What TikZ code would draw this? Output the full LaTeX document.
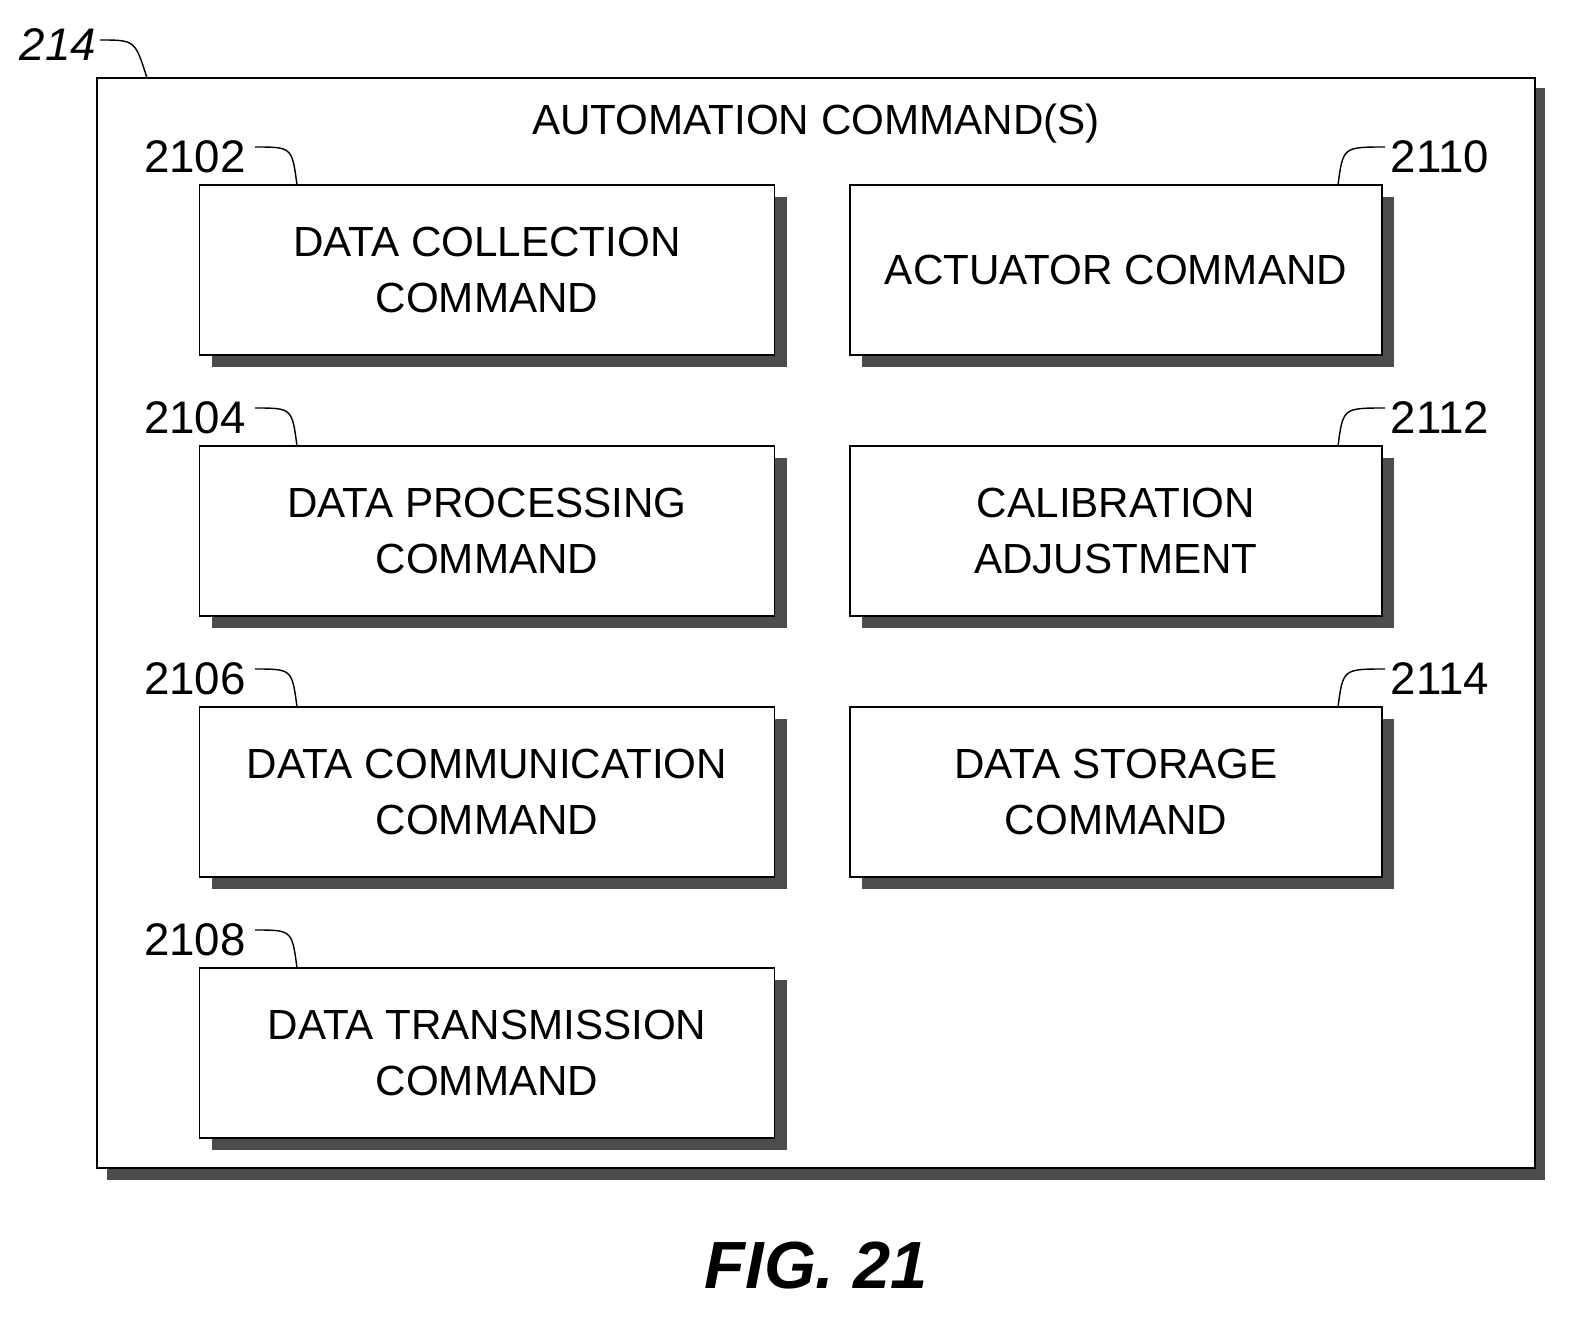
\documentclass[tikz,border=0pt]{standalone}
\usepackage{fontspec}
\setmainfont{Liberation Sans}
\usetikzlibrary{calc}

\tikzset{
  cmd/.style={draw, thick, fill=white, minimum width=11.5cm, minimum height=3.4cm,
    align=center, font=\fontsize{24}{32}\selectfont, inner sep=0pt},
  shadow/.style={fill=black!70},
  ref/.style={font=\fontsize{26}{32}\selectfont}
}

\begin{document}
\begin{tikzpicture}[x=0.02cm, y=-0.02cm]
    \useasboundingbox (0,0) rectangle (1578,1319);
    % outer box
    \fill[shadow] (107,88) rectangle (1545,1180);
    \draw[thick, fill=white] (97,78) rectangle (1535,1168);
    \node[font=\fontsize{24}{32}\selectfont] (title) at (816,124) {AUTOMATION COMMAND(S)};
    \node[ref, font=\itshape\fontsize{26}{32}\selectfont] (l214) at (58,45) {214};
    \draw[thick] (100,40) .. controls (135,40) .. (147,78);

    % left column
    \foreach \i/\yy/\lab/\txt in {2102/270/2102/{DATA COLLECTION\\COMMAND},
                                   2104/531/2104/{DATA PROCESSING\\COMMAND},
                                   2106/792/2106/{DATA COMMUNICATION\\COMMAND},
                                   2108/1053/2108/{DATA TRANSMISSION\\COMMAND}} {
        \fill[shadow] (212,{\yy-73}) rectangle (787,{\yy+97});
        \node[cmd] (b\i) at (487,\yy) {\txt};
        \node[ref] (r\i) at (195,{\yy-113}) {\lab};
        \draw[thick] (255,{\yy-123}) .. controls (292,{\yy-123}) .. (297,{\yy-85});
    }

    % right column
    \foreach \i/\yy/\lab/\txt in {2110/270/2110/{ACTUATOR COMMAND},
                                   2112/531/2112/{CALIBRATION\\ADJUSTMENT},
                                   2114/792/2114/{DATA STORAGE\\COMMAND}} {
        \fill[shadow] (862,{\yy-73}) rectangle (1394,{\yy+97});
        \node[cmd, minimum width=10.64cm] (b\i) at (1116,\yy) {\txt};
        \node[ref] (r\i) at (1440,{\yy-113}) {\lab};
        \draw[thick] (1385,{\yy-123}) .. controls (1343,{\yy-123}) .. (1338,{\yy-85});
    }

    \node[font=\bfseries\itshape\fontsize{38}{44}\selectfont] (fig) at (816,1265) {FIG. 21};
\end{tikzpicture}
\end{document}
